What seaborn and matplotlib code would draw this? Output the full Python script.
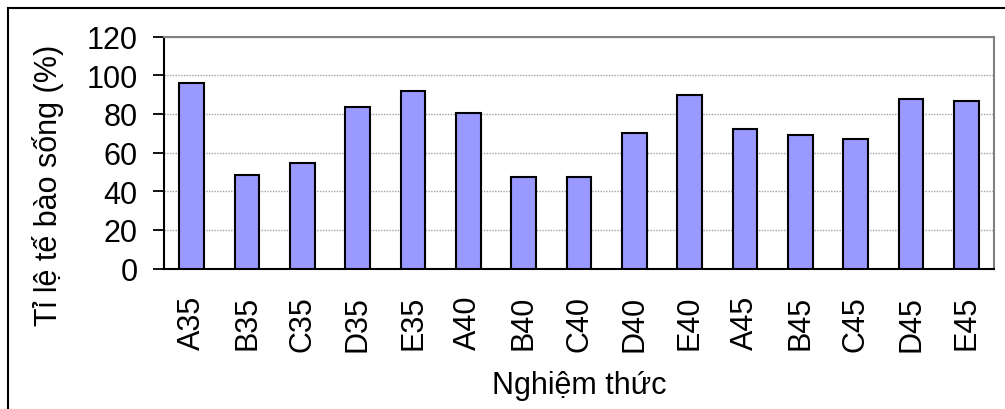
import matplotlib
matplotlib.use("Agg")
import matplotlib.pyplot as plt
import seaborn as sns
import pandas as pd
from matplotlib.patches import Rectangle

categories = ["A35", "B35", "C35", "D35", "E35", "A40", "B40", "C40", "D40", "E40",
              "A45", "B45", "C45", "D45", "E45"]
values = [96.0, 48.5, 54.7, 83.7, 92.0, 80.5, 47.3, 47.3, 70.3, 90.0,
          72.3, 69.2, 67.2, 87.9, 86.8]
y_ticks = [0, 20, 40, 60, 80, 100, 120]

sns.set_style("white")
plt.rcParams['font.family'] = ['Liberation Sans', 'DejaVu Sans']
plt.rcParams['text.color'] = 'black'
plt.rcParams['axes.labelcolor'] = 'black'
plt.rcParams['xtick.color'] = 'black'
plt.rcParams['ytick.color'] = 'black'

df = pd.DataFrame({"cat": categories, "val": values})

fig = plt.figure(figsize=(10.05, 4.10), dpi=100)
W, H = 1005, 410
ax = fig.add_axes([164 / W, 1 - 269.5 / H, (994 - 164) / W, (269.5 - 37.7) / H])

sns.barplot(data=df, x="cat", y="val", ax=ax, color="#9999FF", saturation=1,
            width=0.44, edgecolor="black", linewidth=1.5, zorder=3)

FS = 22
ax.set_ylim(0, 120)
ax.set_xlim(-0.5, len(categories) - 0.5)
ax.set_yticks(y_ticks)
ax.set_yticklabels([str(t) for t in y_ticks], fontsize=FS)
ax.yaxis.grid(True, color="#A0A0A0", linestyle=(0, (1, 1)), linewidth=1.0, zorder=0)
ax.set_axisbelow(True)

ax.set_xticks(range(len(categories)))
ax.set_xticklabels(categories, rotation=90, fontsize=FS)
ax.set_xticks([i - 0.5 for i in range(len(categories) + 1)], minor=True)
ax.tick_params(axis="x", which="major", length=0, pad=19)
ax.tick_params(axis="x", which="minor", length=7.5, width=1.3, direction="out", color="black")
ax.tick_params(axis="y", which="major", length=8, width=1.3, direction="out", color="black", pad=11, left=True)

for side in ["left", "bottom"]:
    ax.spines[side].set_color("black")
    ax.spines[side].set_linewidth(1.5)
for side in ["top", "right"]:
    ax.spines[side].set_visible(True)
    ax.spines[side].set_color("#808080")
    ax.spines[side].set_linewidth(1.5)

ax.set_ylabel("Tỉ lệ tế bào sống (%)", fontsize=FS)
ax.yaxis.set_label_coords((64 - 164) / 830, 0.365)
ax.set_xlabel("Nghiệm thức", fontsize=FS, labelpad=14)

fig.patches.append(Rectangle((8 / W, -0.2), 1.2, 1.2 - 9 / H, transform=fig.transFigure,
                             fill=False, edgecolor="black", linewidth=1.5, zorder=10))

fig.savefig("out.png", dpi=100)
